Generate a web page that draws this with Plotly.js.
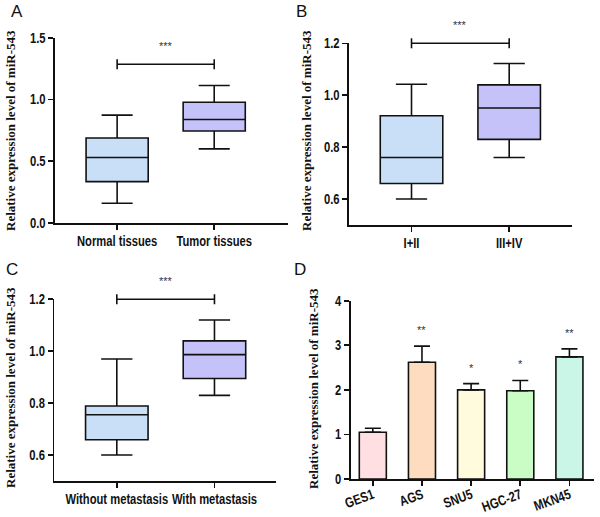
<!DOCTYPE html>
<html>
<head>
<meta charset="utf-8">
<script src="https://cdn.plot.ly/plotly-3.0.1.min.js"></script>
<style>
  html, body { margin: 0; padding: 0; background: #fff; }
  #chart { width: 600px; height: 517px; }
</style>
</head>
<body>
<div id="chart"></div>
<script>
// Panel A: tissue type
const tissueCats = ['Normal tissues', 'Tumor tissues'];
const tissueLow = [0.16, 0.60];
const tissueQ1 = [0.335, 0.745];
const tissueMed = [0.53, 0.838];
const tissueQ3 = [0.688, 0.977];
const tissueHigh = [0.873, 1.113];

// Panel B: TNM stage
const stageCats = ['I+II', 'III+IV'];
const stageLow = [0.60, 0.76];
const stageQ1 = [0.66, 0.83];
const stageMed = [0.76, 0.951];
const stageQ3 = [0.921, 1.04];
const stageHigh = [1.042, 1.122];

// Panel C: metastasis
const metaCats = ['Without metastasis', 'With metastasis'];
const metaLow = [0.60, 0.83];
const metaQ1 = [0.659, 0.895];
const metaMed = [0.755, 0.987];
const metaQ3 = [0.789, 1.04];
const metaHigh = [0.970, 1.12];

// Panel D: cell lines
const cellLines = ['GES1', 'AGS', 'SNU5', 'HGC-27', 'MKN45'];
const cellMeans = [1.05, 2.62, 2.0, 1.98, 2.74];
const cellErr = [0.09, 0.36, 0.14, 0.23, 0.18];
const cellStars = ['', '**', '*', '*', '**'];
const cellColors = ['#ffdfe1', '#fedcbf', '#fffbdc', '#c9fdc5', '#c9f6e6'];

const boxColors = ['#c8dff7', '#c4c2f8'];

// significance bracket heights (data units)
const bracketA = 1.285;
const bracketB = 1.20;
const bracketC = 1.20;

const rangeA = [0, 1.5];
const rangeB = [0.5, 1.2];
const rangeC = [0.5, 1.2];
const rangeD = [0, 4];

const tickFont = {family: 'Liberation Sans, Arial', size: 14, color: '#111', weight: 'bold'};
const yTitle = 'Relative expression level of miR-543';

function boxTraces(cats, low, q1, med, q3, high, xa, ya) {
  return cats.map((c, i) => ({
    type: 'box',
    x: [c],
    lowerfence: [low[i]],
    q1: [q1[i]],
    median: [med[i]],
    q3: [q3[i]],
    upperfence: [high[i]],
    width: 0.64,
    whiskerwidth: 0.5,
    fillcolor: boxColors[i],
    line: {color: '#111', width: 1.6},
    boxpoints: false,
    hoverinfo: 'skip',
    showlegend: false,
    xaxis: xa,
    yaxis: ya
  }));
}

const data = [
  ...boxTraces(tissueCats, tissueLow, tissueQ1, tissueMed, tissueQ3, tissueHigh, 'x', 'y'),
  ...boxTraces(stageCats, stageLow, stageQ1, stageMed, stageQ3, stageHigh, 'x2', 'y2'),
  ...boxTraces(metaCats, metaLow, metaQ1, metaMed, metaQ3, metaHigh, 'x3', 'y3'),
  {
    type: 'bar',
    x: cellLines,
    y: cellMeans,
    width: 0.55,
    marker: {color: cellColors, line: {color: '#111', width: 1.6}},
    error_y: {type: 'data', array: cellErr, arrayminus: cellErr.map(() => 0), symmetric: false,
              color: '#111', thickness: 1.6, width: 8},
    hoverinfo: 'skip',
    showlegend: false,
    xaxis: 'x4',
    yaxis: 'y4'
  }
];

function xAxis(domain, range, anchor, extra) {
  return Object.assign({
    domain: domain, range: range, anchor: anchor, type: 'category', tickangle: 0,
    showline: true, linecolor: '#111', linewidth: 1.6,
    ticks: 'outside', ticklen: 5, tickwidth: 1.6, tickcolor: '#111',
    showgrid: false, zeroline: false, tickfont: tickFont, fixedrange: true
  }, extra || {});
}
function yAxis(domain, range, dtick, anchor, fmt) {
  return {
    domain: domain, range: range, anchor: anchor, dtick: dtick, tick0: 0,
    tickformat: fmt, showline: true, linecolor: '#111', linewidth: 1.6,
    ticks: 'outside', ticklen: 5, tickwidth: 1.6, tickcolor: '#111',
    showgrid: false, zeroline: false, tickfont: tickFont, fixedrange: true
  };
}

// bracket drawn in axis-domain coords so its end ticks are not clipped at the top
function bracket(xa, ya, y, range) {
  const f = (y - range[0]) / (range[1] - range[0]);
  const s = {type: 'line', xref: xa, yref: ya + ' domain', line: {color: '#111', width: 1.6}};
  const tick = {ysizemode: 'pixel', yanchor: f, y0: -5, y1: 5};
  return [
    Object.assign({x0: 0, x1: 1, y0: f, y1: f}, s),
    Object.assign({x0: 0, x1: 0}, tick, s),
    Object.assign({x0: 1, x1: 1}, tick, s)
  ];
}

const shapes = [
  ...bracket('x', 'y', bracketA, rangeA),
  ...bracket('x2', 'y2', bracketB, rangeB),
  ...bracket('x3', 'y3', bracketC, rangeC)
];

const starFont = {family: 'Liberation Sans, Arial', size: 11, color: '#333'};
const annotations = [
  {xref: 'x', yref: 'y', x: 0.5, y: bracketA, text: '***', yshift: 10},
  {xref: 'x2', yref: 'y2', x: 0.5, y: bracketB, text: '***', yshift: 10},
  {xref: 'x3', yref: 'y3', x: 0.5, y: bracketC, text: '***', yshift: 10},
  ...cellLines.map((c, i) => ({xref: 'x4', yref: 'y4', x: c, y: cellMeans[i] + cellErr[i],
    text: cellStars[i], yshift: 8}))
].map(a => Object.assign({showarrow: false, font: starFont, yanchor: 'bottom'}, a));

const panelFont = {family: 'Liberation Sans, Arial', size: 17, color: '#111'};
[['A', 17, 12], ['B', 301, 12], ['C', 12, 269], ['D', 300, 269]].forEach(p => {
  annotations.push({xref: 'paper', yref: 'paper', x: p[1] / 600, y: 1 - p[2] / 517,
    text: p[0], showarrow: false, font: panelFont, xanchor: 'center', yanchor: 'middle'});
});

const titleFont = {family: 'Liberation Serif, Times New Roman, serif', size: 13, color: '#111', weight: 'bold'};
[[10, 131], [306, 131], [10, 388], [313, 388]].forEach(p => {
  annotations.push({xref: 'paper', yref: 'paper', x: p[0] / 600, y: 1 - p[1] / 517,
    text: '<b>' + yTitle + '</b>', textangle: -90, showarrow: false, font: titleFont,
    xanchor: 'center', yanchor: 'middle'});
});

const layout = {
  width: 600,
  height: 517,
  margin: {l: 0, r: 0, t: 0, b: 0},
  paper_bgcolor: '#fff',
  plot_bgcolor: '#fff',
  showlegend: false,
  xaxis: xAxis([55 / 600, 288 / 600], [-0.64, 1.76], 'y'),
  yaxis: yAxis([1 - 223 / 517, 1 - 37.7 / 517], rangeA, 0.5, 'x', '.1f'),
  xaxis2: xAxis([349 / 600, 571.7 / 600], [-0.64, 1.64], 'y2'),
  yaxis2: yAxis([1 - 225 / 517, 1 - 43.3 / 517], rangeB, 0.2, 'x2', '.1f'),
  xaxis3: xAxis([54.3 / 600, 276 / 600], [-0.64, 1.63], 'y3'),
  yaxis3: yAxis([1 - 481 / 517, 1 - 299.3 / 517], rangeC, 0.2, 'x3', '.1f'),
  xaxis4: xAxis([350.7 / 600, 594 / 600], [-0.45, 4.5], 'y4', {tickangle: -20, ticklabelstandoff: -4}),
  yaxis4: yAxis([1 - 479 / 517, 1 - 300.7 / 517], rangeD, 1, 'x4', 'd'),
  shapes: shapes,
  annotations: annotations
};

// the original labels use a condensed bold face; squeeze the tick texts to match
function squeeze(gd) {
  gd.querySelectorAll('.xaxislayer-above text, .yaxislayer-above text').forEach(t => {
    if (t.getAttribute('lengthAdjust')) return;
    const w = t.getComputedTextLength();
    t.setAttribute('textLength', (w * 0.8).toFixed(1));
    t.setAttribute('lengthAdjust', 'spacingAndGlyphs');
  });
}

const gd = document.getElementById('chart');
Plotly.newPlot(gd, data, layout, {displayModeBar: false, staticPlot: true}).then(() => {
  squeeze(gd);
  gd.on('plotly_afterplot', () => squeeze(gd));
  setTimeout(() => squeeze(gd), 50);
});
</script>
</body>
</html>
